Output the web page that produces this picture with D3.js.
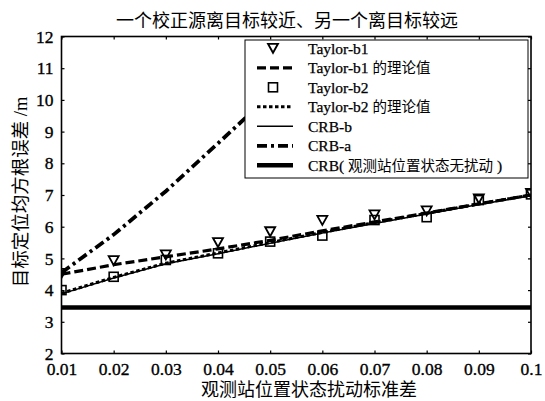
<!DOCTYPE html>
<html>
<head>
<meta charset="utf-8">
<script src="https://cdn.jsdelivr.net/npm/d3@7"></script>
<style>
  body { margin: 0; background: #fff; }
  text { fill: #000; }
</style>
</head>
<body>
<div id="chart"></div>
<script>
// values
const xVals = [0.01, 0.02, 0.03, 0.04, 0.05, 0.06, 0.07, 0.08, 0.09, 0.1];
const yTicks = [2, 3, 4, 5, 6, 7, 8, 9, 10, 11, 12];
const taylorB1 = [4.53, 4.93, 5.11, 5.5, 5.84, 6.2, 6.37, 6.5, 6.88, 7.05];
const taylorB1Theory = [4.5, 4.8, 5.05, 5.3, 5.57, 5.87, 6.15, 6.43, 6.72, 7.0];
const taylorB2 = [4.0, 4.42, 4.95, 5.16, 5.53, 5.72, 6.21, 6.3, 6.84, 7.02];
const taylorB2Theory = [3.9, 4.4, 4.85, 5.17, 5.5, 5.82, 6.13, 6.42, 6.72, 7.0];
const crbB = [3.88, 4.38, 4.83, 5.15, 5.48, 5.8, 6.1, 6.4, 6.7, 6.98];
const crbAx = [0.01, 0.02, 0.03, 0.04, 0.05]; // rest is hidden behind the legend
const crbA = [4.55, 5.75, 7.12, 8.63, 10.15];
const crbNone = [3.45, 3.45, 3.45, 3.45, 3.45, 3.45, 3.45, 3.45, 3.45, 3.45];

const legendNames = ["Taylor-b1", "Taylor-b1 的理论值", "Taylor-b2", "Taylor-b2 的理论值", "CRB-b", "CRB-a", "CRB( 观测站位置状态无扰动 )"];

const margin = { top: 36.5, right: 14, bottom: 47.5, left: 61.5 },
    width = 545 - margin.left - margin.right,
    height = 401 - margin.top - margin.bottom;

const serif = "'Liberation Serif', 'Times New Roman', serif";
const cjk = "'Noto Sans CJK SC', sans-serif";

const root = d3.select("#chart")
    .append("svg")
    .attr("width", 545)
    .attr("height", 401);

const svg = root.append("g")
    .attr("transform", `translate(${margin.left},${margin.top})`);

const x = d3.scaleLinear().domain([0.01, 0.1]).range([0, width]);
const y = d3.scaleLinear().domain([2, 12]).range([height, 0]);

svg.append("clipPath").attr("id", "plot-clip")
    .append("rect").attr("width", width).attr("height", height);

// axes, ticks pointing inwards like matlab
const fmt = d3.format(".2~f");
svg.append("g")
    .attr("transform", `translate(0,${height})`)
    .call(d3.axisBottom(x).tickValues(xVals).tickSize(-3).tickPadding(9).tickFormat(fmt))
    .call(g => g.select(".domain").remove());
svg.append("g")
    .call(d3.axisLeft(y).tickValues(yTicks).tickSize(-3).tickPadding(8))
    .call(g => g.select(".domain").remove());
svg.append("g")
    .call(d3.axisTop(x).tickValues(xVals).tickSize(-3).tickFormat(""))
    .call(g => g.select(".domain").remove());
svg.append("g")
    .attr("transform", `translate(${width},0)`)
    .call(d3.axisRight(y).tickValues(yTicks).tickSize(-3).tickFormat(""))
    .call(g => g.select(".domain").remove());

svg.selectAll(".tick text")
    .style("font-family", serif)
    .style("font-size", "17.5px")
    .style("stroke", "#000")
    .style("stroke-width", 0.35)
    .style("fill", "#000");
svg.selectAll(".tick line").attr("stroke", "#000").attr("stroke-width", 1.2);

// lines
const plot = svg.append("g").attr("clip-path", "url(#plot-clip)");

const line = d3.line().x(d => x(d[0])).y(d => y(d[1]));
const zip = (xs, ys) => xs.map((v, i) => [v, ys[i]]);

const series = [
    { values: zip(xVals, crbNone), width: 4.5, dash: null },
    { values: zip(xVals, crbB), width: 1.5, dash: null },
    { values: zip(xVals, taylorB2Theory), width: 3, dash: "3.5,2.5" },
    { values: zip(xVals, taylorB1Theory), width: 3.2, dash: "9,4" },
    { values: zip(crbAx, crbA), width: 3.8, dash: "10,4,3,4" }
];

plot.selectAll(".series")
    .data(series)
    .enter()
    .append("path")
    .attr("class", "series")
    .attr("d", d => line(d.values))
    .attr("fill", "none")
    .attr("stroke", "#000")
    .attr("stroke-width", d => d.width)
    .attr("stroke-dasharray", d => d.dash);

const triPath = "M-5,-4.5L5,-4.5L0,4.5Z";

plot.selectAll(".tri")
    .data(zip(xVals, taylorB1))
    .enter()
    .append("path")
    .attr("class", "tri")
    .attr("d", triPath)
    .attr("transform", d => `translate(${x(d[0])},${y(d[1])})`)
    .attr("fill", "none")
    .attr("stroke", "#000")
    .attr("stroke-width", 1.8);

plot.selectAll(".sq")
    .data(zip(xVals, taylorB2))
    .enter()
    .append("rect")
    .attr("class", "sq")
    .attr("x", d => x(d[0]) - 4.5)
    .attr("y", d => y(d[1]) - 4.5)
    .attr("width", 9)
    .attr("height", 9)
    .attr("fill", "none")
    .attr("stroke", "#000")
    .attr("stroke-width", 1.6);

// frame
svg.append("rect")
    .attr("width", width)
    .attr("height", height)
    .attr("fill", "none")
    .attr("stroke", "#000")
    .attr("stroke-width", 1.6);

// legend
const legend = svg.append("g")
    .attr("transform", `translate(${245 - margin.left},${40 - margin.top})`);

legend.append("rect")
    .attr("width", 283)
    .attr("height", 138)
    .attr("fill", "#fff")
    .attr("stroke", "#000")
    .attr("stroke-width", 1);

const rowY = i => 8.3 + i * 19.5;
const legendLines = [
    null,
    { width: 3.2, dash: "9,4" },
    null,
    { width: 3, dash: "3.5,2.5" },
    { width: 1.5, dash: null },
    { width: 3.8, dash: "10,4,3,4" },
    { width: 4.5, dash: null }
];

legendLines.forEach((s, i) => {
    if (!s) return;
    legend.append("line")
        .attr("x1", 12).attr("x2", 48)
        .attr("y1", rowY(i)).attr("y2", rowY(i))
        .attr("stroke", "#000")
        .attr("stroke-width", s.width)
        .attr("stroke-dasharray", s.dash);
});

legend.append("path")
    .attr("d", triPath)
    .attr("transform", `translate(28,${rowY(0)})`)
    .attr("fill", "none")
    .attr("stroke", "#000")
    .attr("stroke-width", 1.8);

legend.append("rect")
    .attr("x", 23.5).attr("y", rowY(2) - 4.5)
    .attr("width", 9).attr("height", 9)
    .attr("fill", "none")
    .attr("stroke", "#000")
    .attr("stroke-width", 1.6);

legendNames.forEach((name, i) => {
    const t = legend.append("text")
        .attr("x", 63)
        .attr("y", rowY(i))
        .attr("dy", "0.35em")
        .style("font-size", "15.5px");
    // latin parts in serif, chinese parts in cjk font
    name.split(/([\u4e00-\u9fff]+)/).filter(p => p).forEach(p => {
        const cn = /[\u4e00-\u9fff]/.test(p);
        t.append("tspan")
            .style("font-family", cn ? cjk : serif)
            .style("font-size", cn ? "14.5px" : "15.5px")
            .style("stroke", cn ? "none" : "#000")
            .style("stroke-width", 0.25)
            .text(p);
    });
});

// title and axis labels
root.append("text")
    .attr("x", 287)
    .attr("y", 20.5)
    .attr("dy", "0.35em")
    .attr("text-anchor", "middle")
    .style("font-family", cjk)
    .style("font-size", "18px")
    .text("一个校正源离目标较近、另一个离目标较远");

root.append("text")
    .attr("x", 309)
    .attr("y", 390)
    .attr("dy", "0.35em")
    .attr("text-anchor", "middle")
    .style("font-family", cjk)
    .style("font-size", "18px")
    .text("观测站位置状态扰动标准差");

const yLabel = root.append("text")
    .attr("transform", "translate(21,192) rotate(-90)")
    .attr("dy", "0.35em")
    .attr("text-anchor", "middle")
    .style("font-size", "18.5px");
yLabel.append("tspan").style("font-family", cjk).text("目标定位均方根误差");
yLabel.append("tspan").style("font-family", serif).text(" /m");
</script>
</body>
</html>
